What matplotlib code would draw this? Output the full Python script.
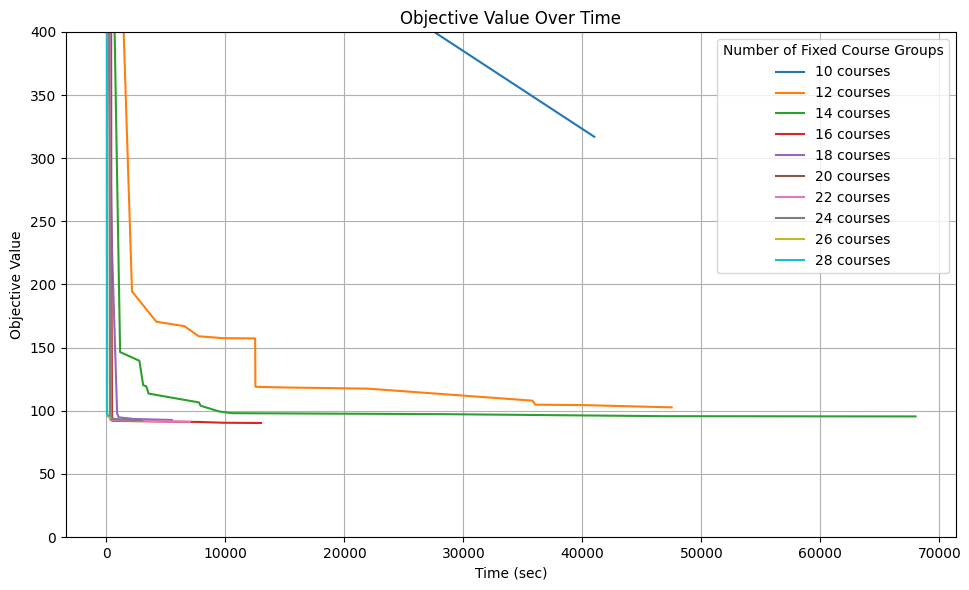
import matplotlib
matplotlib.use("Agg")
import matplotlib.pyplot as plt

# time (sec) / objective value per number of fixed course groups
t10 = [0, 41000]
v10 = [570, 317]

t12 = [0, 2150, 4200, 6560, 7750, 9780, 12500, 12520, 14600, 22000, 35800, 36050, 40000, 47500]
v12 = [826, 194.5, 170.5, 167, 159, 157.5, 157.3, 119, 118.5, 117.5, 108, 104.8, 104.5, 102.7]

t14 = [0, 1150, 2770, 3090, 3350, 3540, 7780, 7910, 9450, 10500, 28400, 47000, 68000]
v14 = [780, 146.5, 139.6, 120.2, 119.4, 113.6, 106.6, 104, 99.5, 98.1, 97.3, 95.7, 95.5]

t16 = [0, 480, 7880, 9830, 13000]
v16 = [900, 92, 91.1, 90.5, 90.3]

t18 = [0, 480, 900, 1030, 2290, 5500]
v18 = [486, 225, 98, 94.8, 93.5, 92.7]

t20 = [330, 420, 900]
v20 = [1400, 94, 93]

t22 = [150, 350, 7000]
v22 = [1000, 92.5, 91.3]

t24 = [100, 300, 3000]
v24 = [1200, 93.5, 92.5]

t26 = [30, 60, 300]
v26 = [1500, 96.5, 94]

t28 = [0, 40, 150]
v28 = [1800, 98, 96]

labels = ["10 courses", "12 courses", "14 courses", "16 courses", "18 courses",
          "20 courses", "22 courses", "24 courses", "26 courses", "28 courses"]
series = [(t10, v10), (t12, v12), (t14, v14), (t16, v16), (t18, v18),
          (t20, v20), (t22, v22), (t24, v24), (t26, v26), (t28, v28)]

fig = plt.figure(figsize=(9.7, 5.9), dpi=100)
for (t, v), lab in zip(series, labels):
    plt.plot(t, v, label=lab)

plt.ylim(0, 400)
plt.xlabel("Time (sec)")
plt.ylabel("Objective Value")
plt.title("Objective Value Over Time")
plt.legend(title="Number of Fixed Course Groups", loc="upper right")
plt.grid(True)
fig.subplots_adjust(left=0.068, right=0.9856, top=0.9458, bottom=0.0898)
plt.savefig("out.png")
